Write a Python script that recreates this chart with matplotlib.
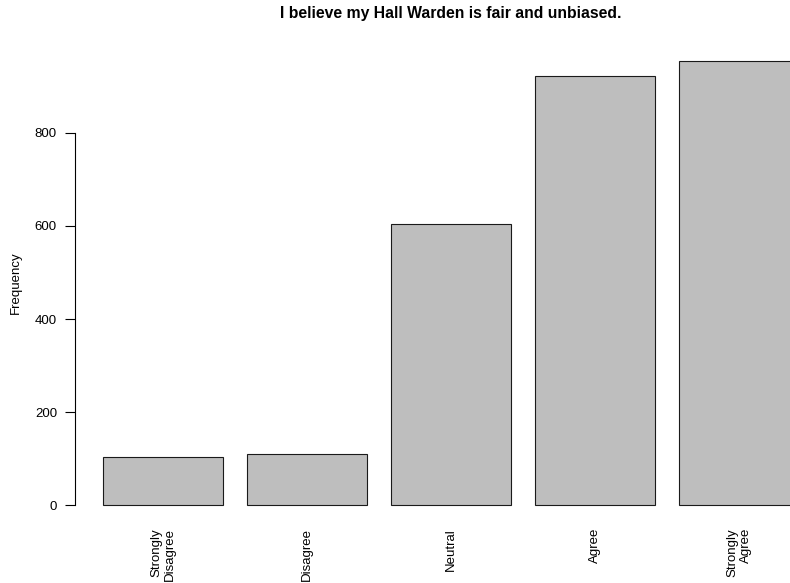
import matplotlib
matplotlib.use("Agg")
import matplotlib.pyplot as plt
import numpy as np

categories = ["Strongly\nDisagree", "Disagree", "Neutral", "Agree", "Strongly\nAgree"]
counts = [104, 111, 605, 922, 955]
yticks = [0, 200, 400, 600, 800]
title = "I believe my Hall Warden is fair and unbiased."

plt.rcParams['font.family'] = ['Liberation Sans', 'DejaVu Sans']

W, H = 790, 583
fig = plt.figure(figsize=(W / 100, H / 100), dpi=100)

# R barplot geometry: width 1, space 0.2
n = len(counts)
lefts = 0.2 + np.arange(n) * 1.2
centers = lefts + 0.5
xlo, xhi = lefts[0], lefts[-1] + 1.0
xr = xhi - xlo
xlim = (xlo - 0.04 * xr, xhi + 0.04 * xr)
ymax = max(counts)
ylim = (-0.04 * ymax, ymax * 1.04)

# plot region in pixels
px_left, px_right = 75, 827
px_top, px_bottom = 43, 523
ax = fig.add_axes([px_left / W, 1 - px_bottom / H, (px_right - px_left) / W, (px_bottom - px_top) / H])

ax.bar(centers, counts, width=1.0, color="#BEBEBE", edgecolor="#1a1a1a", linewidth=0.8)
ax.set_xlim(*xlim)
ax.set_ylim(*ylim)

for s in ["top", "right", "bottom"]:
    ax.spines[s].set_visible(False)
ax.spines["left"].set_bounds(yticks[0], yticks[-1])
ax.spines["left"].set_linewidth(0.8)

ax.set_yticks(yticks)
ax.set_yticklabels([str(v) for v in yticks], fontsize=9.5)
ax.tick_params(axis="y", length=7, width=0.8, pad=6)

ax.set_xticks(centers)
ax.set_xticklabels(categories, rotation=90, fontsize=9.5, ha="center", va="top",
                   multialignment="right")
ax.tick_params(axis="x", length=0, pad=3.6)

ax.set_ylabel("Frequency", fontsize=9.5, labelpad=9)
ax.set_title(title, fontsize=11.3, fontweight="bold", pad=18)

fig.savefig("out.png", dpi=100)
